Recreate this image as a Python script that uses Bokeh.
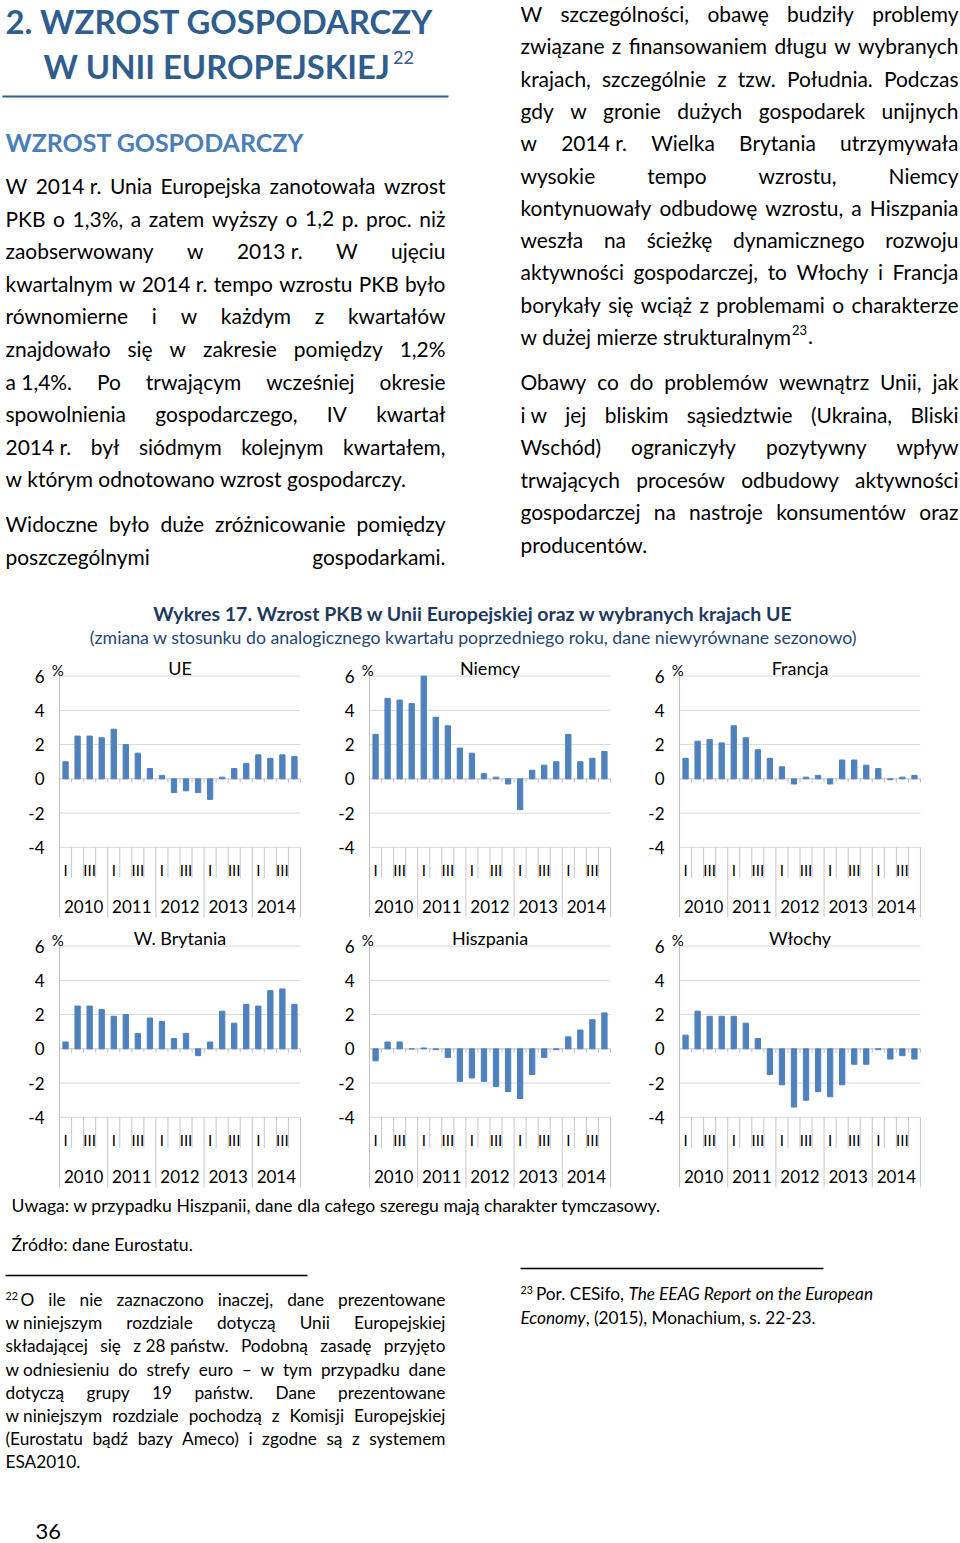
import glob
import os
from bokeh.plotting import figure
from bokeh.models import Range1d, FactorRange, FixedTicker
from bokeh.layouts import column, row
from bokeh.embed import file_html
from bokeh.resources import INLINE
from bokeh.core.properties import value

# ---------------- chart data ----------------
years = ["2010", "2011", "2012", "2013", "2014"]
quarters = ["I", "II", "III", "IV"]
quarter_tick_labels = ["I", "", "III", ""]
y_ticks = [-4, -2, 0, 2, 4, 6]
y_tick_labels = {-4: "-4", -2: "-2", 0: "0", 2: "2", 4: "4", 6: "6"}
panel_titles = ["UE", "Niemcy", "Francja", "W. Brytania", "Hiszpania", "Włochy"]
ue = [1.0, 2.5, 2.5, 2.4, 2.9, 2.0, 1.5, 0.6, 0.2, -0.8, -0.7, -0.8, -1.2, 0.1, 0.6, 0.9, 1.4, 1.2, 1.4, 1.3]
niemcy = [2.6, 4.7, 4.6, 4.4, 6.0, 3.6, 3.1, 1.8, 1.5, 0.3, 0.1, -0.3, -1.8, 0.5, 0.8, 1.0, 2.6, 1.0, 1.2, 1.6]
francja = [1.2, 2.2, 2.3, 2.1, 3.1, 2.4, 1.7, 1.2, 0.7, -0.3, 0.1, 0.2, -0.3, 1.1, 1.1, 0.8, 0.6, -0.05, 0.1, 0.2]
w_brytania = [0.4, 2.5, 2.5, 2.3, 1.9, 2.0, 0.9, 1.8, 1.6, 0.6, 0.9, -0.4, 0.4, 2.2, 1.5, 2.6, 2.5, 3.4, 3.5, 2.6]
hiszpania = [-0.7, 0.4, 0.4, 0.0, 0.05, -0.05, -0.5, -1.9, -1.7, -1.9, -2.2, -2.5, -2.9, -1.5, -0.5, -0.05, 0.7, 1.1, 1.7, 2.1]
wlochy = [0.8, 2.2, 1.9, 1.9, 1.9, 1.5, 0.6, -1.5, -2.1, -3.4, -3.0, -2.5, -2.8, -2.1, -0.9, -0.9, -0.05, -0.6, -0.4, -0.6]
panel_values = [ue, niemcy, francja, w_brytania, hiszpania, wlochy]

# ---------------- page texts ----------------
h1_line1 = "2. WZROST GOSPODARCZY"
h1_line2 = "W UNII EUROPEJSKIEJ"
h1_sup = "22"
h2 = "WZROST GOSPODARCZY"
left_p1 = [
    "W 2014\u00a0r. Unia Europejska zanotowała wzrost",
    "PKB o 1,3%, a zatem wyższy o 1,2 p. proc. niż",
    "zaobserwowany w 2013\u00a0r. W ujęciu",
    "kwartalnym w 2014\u00a0r. tempo wzrostu PKB było",
    "równomierne i w każdym z kwartałów",
    "znajdowało się w zakresie pomiędzy 1,2%",
    "a\u00a01,4%. Po trwającym wcześniej okresie",
    "spowolnienia gospodarczego, IV kwartał",
    "2014\u00a0r. był siódmym kolejnym kwartałem,",
    "w którym odnotowano wzrost gospodarczy.",
]
left_p2 = [
    "Widoczne było duże zróżnicowanie pomiędzy",
    "poszczególnymi gospodarkami.",
]
right_p1 = [
    "W szczególności, obawę budziły problemy",
    "związane z finansowaniem długu w wybranych",
    "krajach, szczególnie z tzw. Południa. Podczas",
    "gdy w gronie dużych gospodarek unijnych",
    "w 2014\u00a0r. Wielka Brytania utrzymywała",
    "wysokie tempo wzrostu, Niemcy",
    "kontynuowały odbudowę wzrostu, a Hiszpania",
    "weszła na ścieżkę dynamicznego rozwoju",
    "aktywności gospodarczej, to Włochy i Francja",
    "borykały się wciąż z problemami o charakterze",
]
right_p1_last = "w dużej mierze strukturalnym"
right_p1_sup = "23"
right_p2 = [
    "Obawy co do problemów wewnątrz Unii, jak",
    "i\u00a0w jej bliskim sąsiedztwie (Ukraina, Bliski",
    "Wschód) ograniczyły pozytywny wpływ",
    "trwających procesów odbudowy aktywności",
    "gospodarczej na nastroje konsumentów oraz",
    "producentów.",
]
chart_title = "Wykres 17. Wzrost PKB w Unii Europejskiej oraz w wybranych krajach UE"
chart_subtitle = "(zmiana w stosunku do analogicznego kwartału poprzedniego roku, dane niewyrównane sezonowo)"
note_text = "Uwaga: w przypadku Hiszpanii, dane dla całego szeregu mają charakter tymczasowy."
source_text = "Źródło: dane Eurostatu."
fn22_sup = "22"
fn22 = [
    "O ile nie zaznaczono inaczej, dane prezentowane",
    "w\u00a0niniejszym rozdziale dotyczą Unii Europejskiej",
    "składającej się z\u00a028\u00a0państw. Podobną zasadę przyjęto",
    "w\u00a0odniesieniu do strefy euro – w tym przypadku dane",
    "dotyczą grupy 19 państw. Dane prezentowane",
    "w\u00a0niniejszym rozdziale pochodzą z Komisji Europejskiej",
    "(Eurostatu bądź bazy Ameco) i zgodne są z systemem",
    "ESA2010.",
]
fn23_sup = "23"
fn23_a = "Por. CESifo, "
fn23_b = "The EEAG Report on the European"
fn23_c = "Economy"
fn23_d = ", (2015), Monachium, s. 22-23."
page_number = "36"

# ---------------- styling ----------------
FONT = "Lato"
BAR = "#4F81BD"
GRID = "#D9D9D9"
AXC = "#BFBFBF"
SEP = "#C6C6C6"
H1C = "#2F5D8E"
H2C = "#4A7EBB"
CT1 = "#1F3A60"
CT2 = "#27456F"

# ---------------- text measuring ----------------
try:
    from PIL import ImageFont
except Exception:
    ImageFont = None

_files = {}
_fonts = {}


def _find(style):
    names = {"normal": "Lato-Regular.ttf", "bold": "Lato-Bold.ttf", "italic": "Lato-Italic.ttf"}
    for root in ["/usr/share/fonts", "/usr/local/share/fonts",
                 os.path.expanduser("~/.fonts"), os.path.expanduser("~/.local/share/fonts")]:
        hits = glob.glob(os.path.join(root, "**", names[style]), recursive=True)
        if hits:
            return hits[0]
    return None


def measure(text, size, style="normal"):
    if ImageFont is not None:
        if style not in _files:
            _files[style] = _find(style)
        path = _files[style]
        if path:
            if style not in _fonts:
                _fonts[style] = ImageFont.truetype(path, 100)
            return _fonts[style].getlength(text) * size / 100.0
    return len(text) * 0.5 * size


def fit(lines, widths, style="normal", cap=100.0):
    best = cap
    for t, w in zip(lines, widths):
        nat = measure(t, 1.0, style)
        if nat > 0:
            best = min(best, w / nat)
    return round(best, 2)


def add(store, x, y, txt, size, style="normal", color="black", align="left"):
    key = (round(size, 2), style, color, align)
    d = store.setdefault(key, {"x": [], "y": [], "text": []})
    d["x"].append(x)
    d["y"].append(y)
    d["text"].append(txt)


def put_line(store, text, x0, x1, y, size, style="normal", color="black", justify=True):
    words = text.split(" ")
    ws = [measure(w, size, style) for w in words]
    if justify and len(words) > 1:
        gap = (x1 - x0 - sum(ws)) / (len(words) - 1)
    else:
        gap = measure(" ", size, style)
    x = x0
    for w, wd in zip(words, ws):
        add(store, x, y, w, size, style, color)
        x += wd + gap
    return x - gap


def flush(p, store):
    for (size, style, color, align), d in store.items():
        p.text(x=d["x"], y=d["y"], text=d["text"], text_font=value(FONT),
               text_font_size=value(f"{size}px"), text_font_style=style,
               text_color=color, text_align=align, text_baseline="middle")


def text_fig(w, h):
    p = figure(width=w, height=h, x_range=Range1d(0, w), y_range=Range1d(h, 0),
               toolbar_location=None, output_backend="svg", min_border=0,
               outline_line_color=None, x_axis_location=None, y_axis_location=None)
    p.grid.visible = False
    return p


PAGE_W = 960
PAGE_H = 1543

# ---------------- top text block ----------------
TOP_H = 650
top = text_fig(PAGE_W, TOP_H)
st = {}
h1_size = fit([h1_line1], [427], "bold")
add(st, 5, 21, h1_line1, h1_size, "bold", H1C)
end2 = 43 + measure(h1_line2, h1_size, "bold")
add(st, 43, 66, h1_line2, h1_size, "bold", H1C)
add(st, end2 + 3, 57, h1_sup, round(h1_size * 0.55, 2), "normal", H1C)
top.segment(x0=[2], y0=[96], x1=[448], y1=[96], line_color=H1C, line_width=2)
h2_size = fit([h2], [298], "bold")
add(st, 5, 141, h2, h2_size, "bold", H2C)

LX0, LX1 = 5, 445
RX0, RX1 = 520, 958
just_left = left_p1[:-1] + left_p2
just_right = right_p1 + right_p2[:-1]
body = fit(just_left + just_right,
           [LX1 - LX0] * len(just_left) + [RX1 - RX0] * len(just_right), "normal", cap=21.5)
body = round(body * 0.985, 2)

for i, t in enumerate(left_p1):
    put_line(st, t, LX0, LX1, 185 + 32.6 * i, body, justify=(i < len(left_p1) - 1))
for i, t in enumerate(left_p2):
    put_line(st, t, LX0, LX1, 523 + 32.6 * i, body, justify=True)
for i, t in enumerate(right_p1):
    put_line(st, t, RX0, RX1, 13 + 32.3 * i, body, justify=True)
yl = 13 + 32.3 * len(right_p1)
e = put_line(st, right_p1_last, RX0, RX1, yl, body, justify=False)
sup_size = round(body * 0.62, 2)
add(st, e + 1, yl - 7, right_p1_sup, sup_size)
add(st, e + 2 + measure(right_p1_sup, sup_size), yl, ".", body)
for i, t in enumerate(right_p2):
    put_line(st, t, RX0, RX1, 381 + 32.6 * i, body, justify=(i < len(right_p2) - 1))

ct_size = fit([chart_title], [639], "bold")
add(st, 473, 613, chart_title, ct_size, "bold", CT1, "center")
cs_size = fit([chart_subtitle], [767], "normal")
add(st, 473, 637, chart_subtitle, cs_size, "normal", CT2, "center")
flush(top, st)

# ---------------- chart panels ----------------
Y_BOT = -8.1
Y_TOP = 7.38
Y_GRID_TOP = 6
Y_QLINE = -5.8
Y_QLAB = -5.35
Y_YLAB = -7.45
Y_TITLE = 6.47
Y_PCT = 6.36
PAD = 0.75


def make_panel(title, vals):
    factors = [(y, q) for y in years for q in quarters]
    n = len(factors)
    xr = FactorRange(*factors, factor_padding=0, subgroup_padding=0, group_padding=0,
                     range_padding=PAD, range_padding_units="absolute")
    p = figure(width=310, height=270, x_range=xr, y_range=Range1d(Y_BOT, Y_TOP),
               x_axis_location=None, toolbar_location=None, output_backend="svg",
               min_border_left=50, min_border_right=1, min_border_top=2, min_border_bottom=3,
               outline_line_color=None)
    p.xgrid.visible = False
    p.ygrid.visible = False
    ax = p.yaxis[0]
    ax.ticker = FixedTicker(ticks=y_ticks)
    ax.major_label_overrides = y_tick_labels
    ax.major_tick_line_color = None
    ax.minor_tick_line_color = None
    ax.major_tick_out = 0
    ax.major_tick_in = 0
    ax.axis_line_color = None
    ax.major_label_text_font = FONT
    ax.major_label_text_font_size = "17px"
    ax.major_label_text_color = "black"
    ax.major_label_standoff = 6

    # value axis line at the start of the category area
    p.segment(x0=[0], y0=[Y_BOT], x1=[0], y1=[Y_GRID_TOP], line_color=AXC, line_width=1)

    # horizontal gridlines between the axis and the right edge of the category area
    gt = [t for t in y_ticks if t != 0]
    p.segment(x0=[0] * len(gt), y0=gt, x1=[n] * len(gt), y1=gt, line_color=GRID, line_width=1)

    # category axis at zero with ticks on category boundaries
    p.segment(x0=[0], y0=[0], x1=[n], y1=[0], line_color=AXC, line_width=1)
    bounds = list(range(1, n + 1))
    p.segment(x0=bounds, y0=[0] * n, x1=bounds, y1=[-0.22] * n, line_color=AXC, line_width=1)

    p.vbar(x=factors, top=vals, width=0.44, color=BAR)

    # category label area separators
    qb = [k for k in range(1, n) if k % 4]
    yb = list(range(4, n + 1, 4))
    p.segment(x0=qb, y0=[-4] * len(qb), x1=qb, y1=[Y_QLINE] * len(qb), line_color=SEP, line_width=1)
    p.segment(x0=yb, y0=[-4] * len(yb), x1=yb, y1=[Y_BOT] * len(yb), line_color=SEP, line_width=1)

    qx = [(y, q) for y in years for q, lab in zip(quarters, quarter_tick_labels) if lab]
    qt = [lab for y in years for lab in quarter_tick_labels if lab]
    p.text(x=qx, y=[Y_QLAB] * len(qx), text=qt, text_font=value(FONT), text_font_size=value("15px"),
           text_color="black", text_align="center", text_baseline="middle")
    yx = [4 * i + 2 for i in range(len(years))]
    p.text(x=yx, y=[Y_YLAB] * len(yx), text=years, text_font=value(FONT), text_font_size=value("17px"),
           text_color="black", text_align="center", text_baseline="middle")

    p.text(x=[n / 2], y=[Y_TITLE], text=[title], text_font=value(FONT), text_font_size=value("18px"),
           text_color="black", text_align="center", text_baseline="middle")
    p.text(x=[-0.15], y=[Y_PCT], text=["%"], text_font=value(FONT), text_font_size=value("15px"),
           text_color="black", text_align="center", text_baseline="middle")
    return p


panels = [make_panel(t, v) for t, v in zip(panel_titles, panel_values)]

# ---------------- bottom notes ----------------
BOT_H = PAGE_H - TOP_H - 2 * 270
bot = text_fig(PAGE_W, BOT_H)
sb = {}
note_size = fit([note_text], [649], "normal")
add(sb, 11, 15, note_text, note_size)
add(sb, 11, 54, source_text, note_size)
bot.segment(x0=[5, 520], y0=[85, 78], x1=[307, 823], y1=[85, 78], line_color="black", line_width=1.3)

fn_just = fn22[:-1]
fn_w = [445 - 20] + [440] * (len(fn_just) - 1)
fn_size = round(fit(fn_just, fn_w, "normal", cap=17.5) * 0.985, 2)
fsup = round(fn_size * 0.62, 2)
add(sb, 5, 105, fn22_sup, fsup)
for i, t in enumerate(fn22):
    x0 = 20 if i == 0 else 5
    put_line(sb, t, x0, 445, 109 + 23.2 * i, fn_size, justify=(i < len(fn22) - 1))

add(sb, 520, 99, fn23_sup, fsup)
xa = 520 + measure(fn23_sup, fsup) + 3
add(sb, xa, 103, fn23_a, fn_size)
add(sb, xa + measure(fn23_a, fn_size), 103, fn23_b, fn_size, "italic")
add(sb, 520, 127, fn23_c, fn_size, "italic")
add(sb, 520 + measure(fn23_c, fn_size, "italic"), 127, fn23_d, fn_size)
add(sb, 35, 341, page_number, 22)
flush(bot, sb)

layout = column(top, row(*panels[:3]), row(*panels[3:]), bot)
open("out.html", "w").write(file_html(layout, INLINE, title="Wzrost gospodarczy w UE"))
